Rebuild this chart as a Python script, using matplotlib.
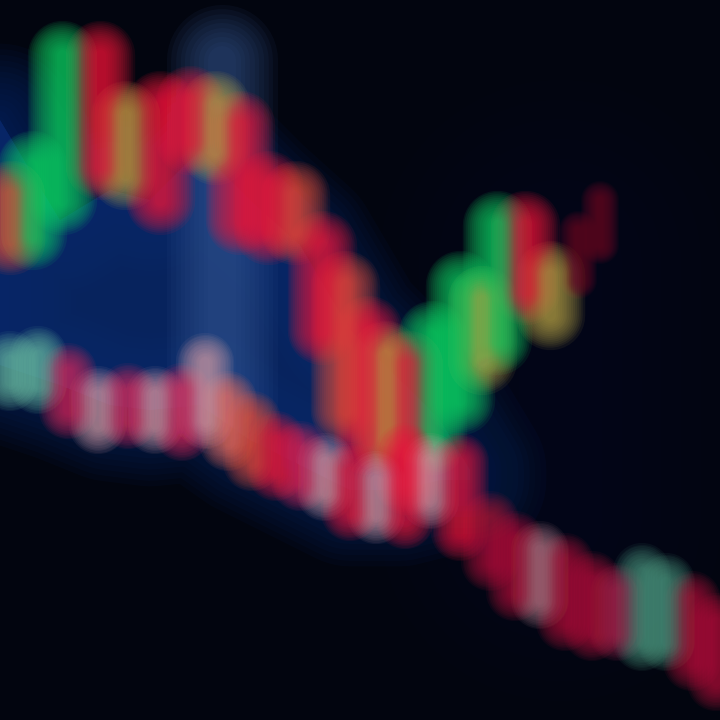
import matplotlib
matplotlib.use("Agg")
import matplotlib.pyplot as plt
import numpy as np

# ---- data (y grows downward) ----
upper_x     = [10, 32, 62, 100, 125, 160, 190, 215, 240, 268, 295, 322, 345, 368, 385, 408, 432, 460, 482, 497, 525, 550, 578, 600]
upper_open  = [195, 235, 200, 55, 115, 105, 100, 105, 125, 185, 195, 245, 285, 330, 355, 365, 440, 400, 300, 340, 225, 275, 230, 200]
upper_close = [240, 165, 55, 165, 175, 200, 140, 150, 220, 230, 230, 330, 410, 440, 440, 480, 335, 285, 360, 225, 290, 315, 280, 245]
upper_kind  = ["orange", "green", "green", "red", "olive", "red", "red", "olive", "red", "red", "orange", "red", "orange", "red", "olive", "red", "green", "green", "olive", "green", "red", "olive", "dim", "dim"]

lower_x     = [10, 38, 68, 98, 128, 155, 182, 205, 228, 252, 276, 300, 325, 350, 376, 405, 430, 460, 490, 515, 540, 565, 592, 617, 642, 666, 692, 716]
lower_open  = [360, 355, 372, 395, 392, 395, 392, 362, 400, 420, 440, 450, 462, 472, 480, 452, 462, 462, 520, 540, 550, 562, 580, 592, 572, 582, 600, 622]
lower_close = [382, 385, 410, 425, 420, 425, 432, 420, 442, 462, 472, 482, 492, 512, 515, 520, 500, 532, 562, 592, 600, 622, 632, 632, 642, 642, 662, 682]
lower_kind  = ["teal", "teal", "pink", "white", "pink", "white", "pink", "white", "peach", "orange", "red", "pink", "white", "red", "white", "red", "white", "red", "dred", "dred", "mwhite", "dred", "dred", "mpink", "mteal", "mteal", "dred", "dred"]

glow_x      = [0, 60, 110, 150, 200, 250, 300, 350, 400, 440, 470]
glow_top    = [120, 220, 190, 200, 150, 200, 245, 330, 380, 420, 470]
glow_bottom = [365, 385, 405, 410, 405, 440, 465, 490, 490, 480, 480]

band_x      = [222]
band_top    = [60]
band_bottom = [400]

palette = {
    "green": "#12d465", "red": "#f0183c", "olive": "#b5a248", "orange": "#e6503a",
    "dim": "#6a0c26", "teal": "#6fc3a6", "pink": "#e02a5c", "white": "#d9a0a8",
    "peach": "#f07060", "dred": "#b8163e", "mwhite": "#b87f8c", "mpink": "#b02a55",
    "mteal": "#4f9a82",
}

fig = plt.figure(figsize=(7.2, 7.2), dpi=100)
fig.patch.set_facecolor("#02050f")
ax = fig.add_axes([0, 0, 1, 1])
ax.set_facecolor("#02050f")
ax.set_xlim(0, 720)
ax.set_ylim(720, 0)
ax.axis("off")

# faint navy haze on the right, soft-edged
for lw in np.linspace(260, 60, 8):
    lc = ax.vlines([560], [260], [520], colors="#061230", lw=lw, alpha=0.06)
    lc.set_capstyle("round")

# blue glow region between the two series (soft edges from stacked strokes)
gx = np.array(glow_x, float)
px = np.r_[gx, gx[::-1]]
py = np.r_[glow_top, glow_bottom[::-1]]
for lw in np.linspace(110, 5, 14):
    ax.fill(px, py, facecolor="#0a2a6c", edgecolor="#0a2a6c", lw=lw, alpha=0.08, joinstyle="round")
ax.fill(px, py, facecolor="#0c2d70", lw=0, alpha=0.5)

# lighter vertical band
for lw in np.linspace(80, 20, 10):
    lc = ax.vlines(band_x, band_top, band_bottom, colors="#3e62a0", lw=lw, alpha=0.075)
    lc.set_capstyle("round")

def candles(xs, o, c, kinds, wmax, wmin, n, a):
    cols = [palette[k] for k in kinds]
    scale = np.array([0.55 if k == "dim" else 1.0 for k in kinds])
    lo = np.minimum(o, c)
    hi = np.maximum(o, c)
    for lw in np.linspace(wmax, wmin, n):
        lc = ax.vlines(xs, lo, hi, colors=cols, linewidths=lw * scale, alpha=a)
        lc.set_capstyle("round")

candles(upper_x, upper_open, upper_close, upper_kind, 50, 8, 16, 0.085)
candles(lower_x, lower_open, lower_close, lower_kind, 42, 7, 16, 0.075)

fig.savefig("out.png", dpi=100, facecolor=fig.get_facecolor())
